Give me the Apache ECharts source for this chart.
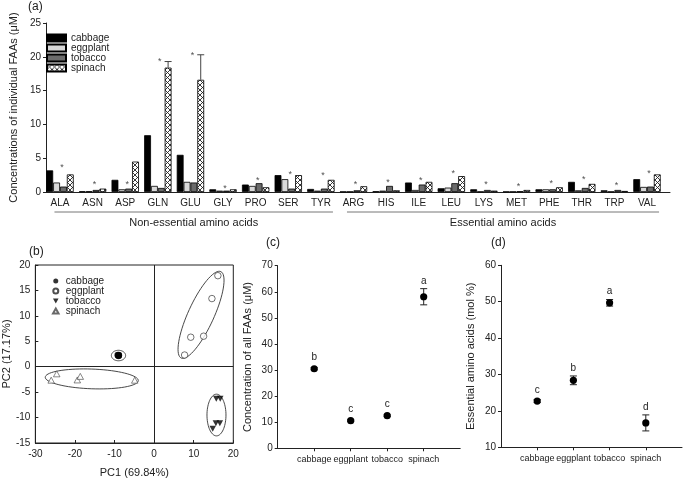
<!DOCTYPE html>
<html><head><meta charset="utf-8">
<script src="https://cdn.jsdelivr.net/npm/echarts@6/dist/echarts.min.js"></script>
<style>html,body{margin:0;padding:0;background:#fff}#c{width:685px;height:479px}</style>
</head><body><div id="c"></div>
<script>
// ---------- Panel (a) data ----------
const aminoAcids = ['ALA','ASN','ASP','GLN','GLU','GLY','PRO','SER','TYR','ARG','HIS','ILE','LEU','LYS','MET','PHE','THR','TRP','VAL'];
const cabbageFAA  = [3.2,0.1,1.8,8.4,5.5,0.4,1.1,2.5,0.45, 0.05,0.1,1.4,0.55,0.4,0.05,0.4,1.5,0.25,1.9];
const eggplantFAA = [1.4,0.1,0.4,0.9,1.5,0.2,0.9,1.9,0.2, 0.05,0.2,0.3,0.65,0.05,0.05,0.4,0.25,0.05,0.75];
const tobaccoFAA  = [0.8,0.3,0.5,0.6,1.4,0.2,1.3,0.5,0.5, 0.25,0.9,1.1,1.3,0.3,0.1,0.4,0.6,0.3,0.8];
const spinachFAA  = [2.6,0.5,4.5,18.4,16.6,0.4,0.7,2.5,1.8, 0.85,0.25,1.5,2.35,0.2,0.3,0.7,1.2,0.15,2.6];
const spinachErr  = [0,0,0,0.9,3.7,0,0,0,0, 0,0,0,0,0,0,0,0,0,0];
const starHeights = [4.0,1.5,1.5,19.8,20.7,1.0,2.2,3.1,2.9, 1.6,1.8,2.2,3.25,1.5,1.3,1.7,2.3,1.35,3.15];
const yTicksA = [0,5,10,15,20,25];
const groupNames = ['Non-essential amino acids','Essential amino acids'];

// ---------- Panel (b) data ----------
const cabbagePC  = [[-9.1,2.2],[-8.9,2.3],[-9.0,2.1],[-9.2,2.3],[-8.9,2.2]];
const eggplantPC = [[7.7,2.3],[9.25,5.8],[12.5,6.0],[14.6,13.4],[16.1,17.9]];
const tobaccoPC  = [[15.7,-6.3],[16.7,-6.3],[15.6,-11.1],[16.6,-11.1],[14.8,-12.2]];
const spinachPC  = [[-26.0,-2.65],[-24.6,-1.4],[-19.4,-2.6],[-18.65,-1.9],[-4.9,-2.65]];
// ellipse: centre x, centre y, semi-axis U (x,y), semi-axis V (x,y) in data units
const ellipses = [
  [-9.0, 2.2, 1.8, 0, 0, 1.03],
  [11.85, 10.2, 5.0, 8.5, -2.96, 1.05],
  [15.75, -9.5, 2.4, 0, 0, 4.1],
  [-15.75, -2.4, 11.75, -0.32, 0, 1.94]
];

// ---------- Panels (c), (d) data ----------
const hosts = ['cabbage','eggplant','tobacco','spinach'];
const totalFAA = [30.5,10.6,12.5,58.1];
const totalFAAErr = [0.4,0.3,0.3,3.1];
const totalLetters = ['b','c','c','a'];
const essentialPct = [22.7,28.4,49.7,16.7];
const essentialErr = [0.4,1.2,0.9,2.2];
const essentialLetters = ['c','b','a','d'];

const FONT = 'Liberation Sans, Arial, sans-serif';
const TXT = '#222';

// crosshatch pattern for spinach
const pc = document.createElement('canvas');
pc.width = 5; pc.height = 5;
const g = pc.getContext('2d');
g.fillStyle = '#fff'; g.fillRect(0,0,5,5);
g.strokeStyle = '#222'; g.lineWidth = 0.9;
g.beginPath(); g.moveTo(0,0); g.lineTo(5,5); g.moveTo(5,0); g.lineTo(0,5); g.stroke();
const hatch = {image: pc, repeat: 'repeat'};

const chart = echarts.init(document.getElementById('c'), null, {renderer:'canvas'});

const barStyle = (c) => ({color: c, borderColor: '#000', borderWidth: 0.8});
const axisTxt = {fontFamily: FONT, fontSize: 10, color: TXT};

function pointErr(letters) {
  return function (params, api) {
    const idx = api.value(0), m = api.value(1), e = api.value(2);
    const c = api.coord([idx, m]);
    const top = api.coord([idx, m + e]);
    const bot = api.coord([idx, m - e]);
    const children = [];
    if (e > 0) {
      children.push({type:'line', shape:{x1:c[0],y1:top[1],x2:c[0],y2:bot[1]}, style:{stroke:'#222',lineWidth:1}});
      children.push({type:'line', shape:{x1:c[0]-3.5,y1:top[1],x2:c[0]+3.5,y2:top[1]}, style:{stroke:'#222',lineWidth:1}});
      children.push({type:'line', shape:{x1:c[0]-3.5,y1:bot[1],x2:c[0]+3.5,y2:bot[1]}, style:{stroke:'#222',lineWidth:1}});
    }
    children.push({type:'circle', shape:{cx:c[0],cy:c[1],r:3.6}, style:{fill:'#000'}});
    const ty = Math.min(top[1], c[1]-3.6) - 7.5;
    children.push({type:'text', style:{text: letters[params.dataIndex], x:c[0], y:ty, align:'center', verticalAlign:'middle', fontFamily:FONT, fontSize:10, fill:TXT}});
    return {type:'group', children};
  };
}

const xCatsCD = ['', ...hosts, ' '];
const catLabel = {margin:7, interval:0, hideOverlap:false, fontFamily:FONT, fontSize:9, color:TXT,
  formatter:(v)=>v.trim()};

const option = {
  animation: false,
  backgroundColor: '#fff',
  textStyle: {fontFamily: FONT},
  grid: [
    {left: 30, top: 23, width: 640, height: 169},           // a frame
    {left: 43.7, top: 23, width: 619.6, height: 169},       // a bars
    {left: 33.3, top: 265, width: 200, height: 180.7, show: true, borderColor: '#222', borderWidth: 1}, // b
    {left: 277.7, top: 265.7, width: 182.5, height: 182.6}, // c
    {left: 501, top: 265.3, width: 181.5, height: 182}      // d
  ],
  xAxis: [
    {gridIndex:0, type:'value', min:0, max:1, axisLine:{lineStyle:{color:'#222'}}, axisTick:{show:false}, axisLabel:{show:false}, splitLine:{show:false}},
    {gridIndex:1, type:'category', data: aminoAcids, axisLine:{show:false}, axisTick:{alignWithLabel:true, length:3, lineStyle:{color:'#222'}}, axisLabel:Object.assign({margin:6, interval:0}, axisTxt)},
    {gridIndex:2, type:'value', min:-30, max:20, interval:10, axisLine:{onZero:false, lineStyle:{color:'#222'}}, axisTick:{inside:true, length:3, lineStyle:{color:'#222'}}, axisLabel:Object.assign({margin:6}, axisTxt), splitLine:{show:false},
      name:'PC1 (69.84%)', nameLocation:'middle', nameGap:24, nameTextStyle:{fontFamily:FONT, fontSize:11, color:TXT}},
    {gridIndex:3, type:'category', data: xCatsCD, boundaryGap:false, axisLine:{lineStyle:{color:'#222'}}, axisTick:{length:3, interval:(i)=>i>0&&i<5, lineStyle:{color:'#222'}}, axisLabel:catLabel},
    {gridIndex:4, type:'category', data: xCatsCD, boundaryGap:false, axisLine:{lineStyle:{color:'#222'}}, axisTick:{length:3, interval:(i)=>i>0&&i<5, lineStyle:{color:'#222'}}, axisLabel:catLabel}
  ],
  yAxis: [
    {gridIndex:0, type:'value', min:0, max:25, interval:5, axisLine:{show:true, lineStyle:{color:'#222'}}, axisTick:{show:true, length:3, lineStyle:{color:'#222'}}, axisLabel:Object.assign({margin:5}, axisTxt), splitLine:{show:false},
      name:'Concentrations of individual FAAs (μM)', nameLocation:'middle', nameGap:20, nameTextStyle:{fontFamily:FONT, fontSize:11, color:TXT}},
    {gridIndex:1, type:'value', min:0, max:25, interval:5, show:false, splitLine:{show:false}},
    {gridIndex:2, type:'value', min:-15, max:20, interval:5, axisLine:{show:true, onZero:false, lineStyle:{color:'#222'}}, axisTick:{show:true, inside:true, length:3, lineStyle:{color:'#222'}}, axisLabel:Object.assign({margin:5}, axisTxt), splitLine:{show:false},
      name:'PC2 (17.17%)', nameLocation:'middle', nameGap:19, nameTextStyle:{fontFamily:FONT, fontSize:11, color:TXT}},
    {gridIndex:3, type:'value', min:0, max:70, interval:10, axisLine:{show:true, lineStyle:{color:'#222'}}, axisTick:{show:true, length:3, lineStyle:{color:'#222'}}, axisLabel:Object.assign({margin:5}, axisTxt), splitLine:{show:false},
      name:'Concentration of all FAAs (μM)', nameLocation:'middle', nameGap:24, nameTextStyle:{fontFamily:FONT, fontSize:11, color:TXT}},
    {gridIndex:4, type:'value', min:10, max:60, interval:10, axisLine:{show:true, lineStyle:{color:'#222'}}, axisTick:{show:true, length:3, lineStyle:{color:'#222'}}, axisLabel:Object.assign({margin:5}, axisTxt), splitLine:{show:false},
      name:'Essential amino acids (mol %)', nameLocation:'middle', nameGap:25, nameTextStyle:{fontFamily:FONT, fontSize:11, color:TXT}}
  ],
  legend: [
    {data:['cabbage','eggplant','tobacco','spinach'], orient:'vertical', left:46, top:33, padding:0, itemWidth:19, itemHeight:7, itemGap:0, icon:'rect',
     textStyle:{fontFamily:FONT, fontSize:10, color:TXT, lineHeight:9.7}, selectedMode:false},
    {data:['pca-cabbage','pca-eggplant','pca-tobacco','pca-spinach'], orient:'vertical', left:52, top:276, padding:0, itemWidth:10, itemHeight:5, itemGap:0,
     formatter:(n)=>n.replace('pca-',''), textStyle:{fontFamily:FONT, fontSize:10, color:TXT, lineHeight:10}, selectedMode:false}
  ],
  series: [
    {name:'cabbage', type:'bar', xAxisIndex:1, yAxisIndex:1, data:cabbageFAA, itemStyle:barStyle('#000'), barGap:'0%', barCategoryGap:'16%'},
    {name:'eggplant', type:'bar', xAxisIndex:1, yAxisIndex:1, data:eggplantFAA, itemStyle:barStyle('#d9d9d9'), barGap:'0%', barCategoryGap:'16%'},
    {name:'tobacco', type:'bar', xAxisIndex:1, yAxisIndex:1, data:tobaccoFAA, itemStyle:barStyle('#6b6b6b'), barGap:'0%', barCategoryGap:'16%'},
    {name:'spinach', type:'bar', xAxisIndex:1, yAxisIndex:1, data:spinachFAA, itemStyle:barStyle(hatch), barGap:'0%', barCategoryGap:'16%'},
    {type:'custom', xAxisIndex:1, yAxisIndex:1, z:5,
     data: aminoAcids.map((a,i)=>[i, spinachFAA[i], spinachErr[i]]),
     renderItem:(params, api)=>{
       const i = api.value(0), v = api.value(1), e = api.value(2);
       if (!(e > 0)) return null;
       const band = api.size([1,0])[0];
       const bw = band*0.84/4;
       const b = api.coord([i, v]); const t = api.coord([i, v+e]);
       const x = b[0] + 1.5*bw;
       return {type:'group', children:[
         {type:'line', shape:{x1:x,y1:b[1],x2:x,y2:t[1]}, style:{stroke:'#444',lineWidth:1}},
         {type:'line', shape:{x1:x-3.5,y1:t[1],x2:x+3.5,y2:t[1]}, style:{stroke:'#444',lineWidth:1}}
       ]};
     }},
    {type:'scatter', xAxisIndex:1, yAxisIndex:1, symbolSize:0, silent:true,
     data: aminoAcids.map((a,i)=>[i, starHeights[i]]),
     label:{show:true, formatter:'*', position:'inside', offset:[2,3], fontFamily:FONT, fontSize:9, color:TXT}},
    // panel b
    {type:'custom', xAxisIndex:2, yAxisIndex:2, z:1, silent:true,
     data: ellipses, dimensions:['cx','cy','ux','uy','vx','vy'], encode:{x:0, y:1},
     renderItem:(params, api)=>{
       const cx=api.value(0), cy=api.value(1), ux=api.value(2), uy=api.value(3), vx=api.value(4), vy=api.value(5);
       const pts=[];
       for (let k=0;k<72;k++){ const t=k/72*Math.PI*2; pts.push(api.coord([cx+ux*Math.cos(t)+vx*Math.sin(t), cy+uy*Math.cos(t)+vy*Math.sin(t)])); }
       return {type:'polygon', shape:{points:pts}, style:{fill:'none', stroke:'#333', lineWidth:0.9}};
     },
     markLine:{silent:true, symbol:'none', label:{show:false}, lineStyle:{color:'#222', type:'solid', width:1}, data:[{xAxis:0},{yAxis:0}]}
    },
    {name:'pca-cabbage', type:'scatter', xAxisIndex:2, yAxisIndex:2, data:cabbagePC, symbol:'circle', symbolSize:6.5, itemStyle:{color:'#000'}},
    {name:'pca-eggplant', type:'scatter', xAxisIndex:2, yAxisIndex:2, data:eggplantPC, symbol:'circle', symbolSize:6.5, itemStyle:{color:'#fff', borderColor:'#222', borderWidth:0.8}},
    {name:'pca-tobacco', type:'scatter', xAxisIndex:2, yAxisIndex:2, data:tobaccoPC, symbol:'path://M0,0 L10,0 L5,9 Z', symbolSize:[6.5,6], itemStyle:{color:'#000'}},
    {name:'pca-spinach', type:'scatter', xAxisIndex:2, yAxisIndex:2, data:spinachPC, symbol:'path://M5,0 L10,9 L0,9 Z', symbolSize:[6.5,6], itemStyle:{color:'#fff', borderColor:'#444', borderWidth:0.8}},
    // panel c
    {type:'custom', xAxisIndex:3, yAxisIndex:3, data: hosts.map((h,i)=>[h, totalFAA[i], totalFAAErr[i]]), renderItem: pointErr(totalLetters)},
    // panel d
    {type:'custom', xAxisIndex:4, yAxisIndex:4, data: hosts.map((h,i)=>[h, essentialPct[i], essentialErr[i]]), renderItem: pointErr(essentialLetters)}
  ],
  graphic: [
    {type:'text', left:28, top:1, style:{text:'(a)', fontFamily:FONT, fontSize:12, fill:TXT}},
    {type:'text', left:29, top:246, style:{text:'(b)', fontFamily:FONT, fontSize:12, fill:TXT}},
    {type:'text', left:266, top:237, style:{text:'(c)', fontFamily:FONT, fontSize:12, fill:TXT}},
    {type:'text', left:491, top:237, style:{text:'(d)', fontFamily:FONT, fontSize:12, fill:TXT}}
  ]
};
chart.setOption(option);

// group brackets under panel (a), positioned through the category scale
const cx = (name) => chart.convertToPixel({xAxisIndex:1}, name);
const band = cx(aminoAcids[1]) - cx(aminoAcids[0]);
const y0 = chart.convertToPixel({yAxisIndex:1}, 0);
const spans = [[cx('ALA') - 0.17*band, cx('TYR') + 0.37*band], [cx('ARG') - 0.2*band, cx('VAL') + 0.37*band]];
const extra = [];
spans.forEach((s, k) => {
  extra.push({type:'line', shape:{x1:s[0], y1:y0+20, x2:s[1], y2:y0+20}, style:{stroke:'#777', lineWidth:1}});
  extra.push({type:'text', x:(s[0]+s[1])/2, y:y0+31, style:{text:groupNames[k], align:'center', verticalAlign:'middle', fontFamily:FONT, fontSize:11, fill:TXT}});
});
chart.setOption({graphic: option.graphic.concat(extra)});
</script></body></html>
